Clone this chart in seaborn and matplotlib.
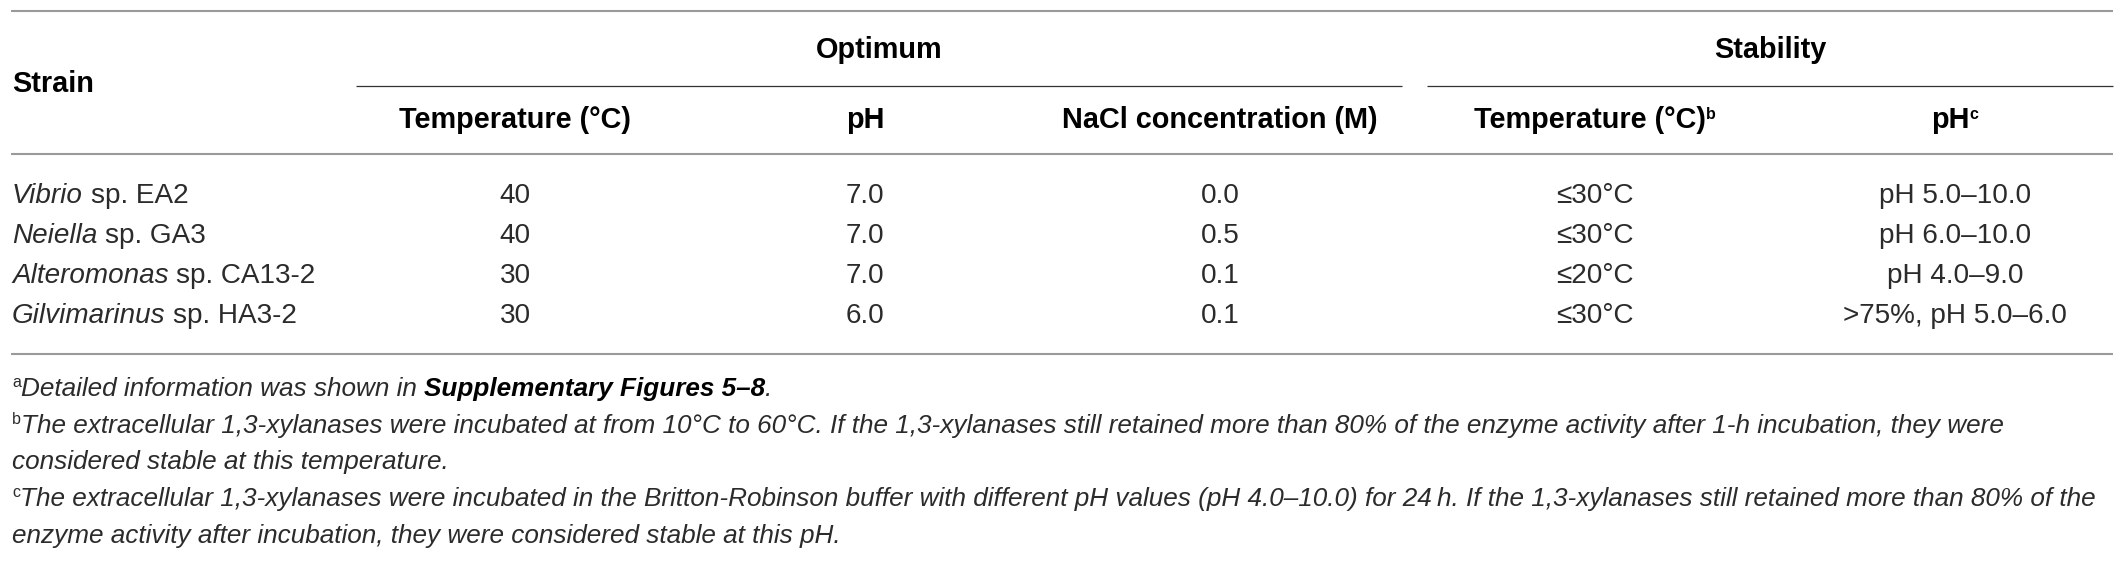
import matplotlib
matplotlib.use("Agg")
import matplotlib.pyplot as plt
import seaborn as sns
from matplotlib.font_manager import FontProperties

# table content
strain_genus = ["Vibrio", "Neiella", "Alteromonas", "Gilvimarinus"]
strain_code = ["sp. EA2", "sp. GA3", "sp. CA13-2", "sp. HA3-2"]
opt_temp = ["40", "40", "30", "30"]
opt_ph = ["7.0", "7.0", "7.0", "6.0"]
opt_nacl = ["0.0", "0.5", "0.1", "0.1"]
stab_temp = ["≤30°C", "≤30°C", "≤20°C", "≤30°C"]
stab_ph = ["pH 5.0–10.0", "pH 6.0–10.0", "pH 4.0–9.0", ">75%, pH 5.0–6.0"]

group_labels = ["Optimum", "Stability"]
col_labels = ["Temperature (°C)", "pH", "NaCl concentration (M)", "Temperature (°C)", "pH"]
col_marks = ["", "", "", "b", "c"]

footnotes = [
    [("a", "sup"), ("Detailed information was shown in ", "it"),
     ("Supplementary Figures 5–8", "bi"), (".", "it")],
    [("b", "sup"), ("The extracellular 1,3-xylanases were incubated at from 10°C to 60°C. "
                    "If the 1,3-xylanases still retained more than 80% of the enzyme activity "
                    "after 1-h incubation, they were", "it")],
    [("considered stable at this temperature.", "it")],
    [("c", "sup"), ("The extracellular 1,3-xylanases were incubated in the Britton-Robinson "
                    "buffer with different pH values (pH 4.0–10.0) for 24\u2009h. If the "
                    "1,3-xylanases still retained more than 80% of the", "it")],
    [("enzyme activity after incubation, they were considered stable at this pH.", "it")],
]

sns.set_theme(style="white")
fam = ["Liberation Sans", "DejaVu Sans"]
plt.rcParams["font.family"] = fam

W, H = 2123, 562
fig = plt.figure(figsize=(W / 100, H / 100), dpi=100)
ax = fig.add_axes([0, 0, 1, 1])
ax.set_xlim(0, W)
ax.set_ylim(H, 0)
ax.axis("off")
renderer = fig.canvas.get_renderer()


def raw_width(text, prop):
    t = ax.text(0, 0, text, fontproperties=prop)
    w = t.get_window_extent(renderer).width
    t.remove()
    return w


def space_width(prop):
    return raw_width("x x", prop) - raw_width("xx", prop)


def run_width(text, prop):
    core = text.strip(" ")
    n_sp = len(text) - len(core)
    return (raw_width(core, prop) if core else 0) + space_width(prop) * n_sp


def make_props(body, bold, foot, sup):
    return {
        "rm": FontProperties(family=fam, size=body),
        "it": FontProperties(family=fam, size=foot, style="italic"),
        "bit": FontProperties(family=fam, size=body, style="italic"),
        "bf": FontProperties(family=fam, size=bold, weight="bold"),
        "bi": FontProperties(family=fam, size=foot, weight="bold", style="italic"),
        "sup": FontProperties(family=fam, size=sup),
        "bsup": FontProperties(family=fam, size=sup, weight="bold"),
    }


# size calibration so that text widths match the printed table
p10 = make_props(10, 10, 10, 6)
body_fs = 10 * 176 / (run_width("Vibrio", p10["bit"]) + run_width(" sp. EA2", p10["rm"]))
bold_fs = 10 * 233 / run_width(col_labels[0], p10["bf"])
foot_fs = 10 * 1989 / run_width(footnotes[1][1][0], p10["it"])
props = make_props(body_fs, bold_fs, foot_fs, 11.5)

text_col = "#2b2b2b"
colors = {"rm": text_col, "it": text_col, "bit": text_col, "bf": "black",
          "bi": "black", "sup": text_col, "bsup": "black"}


def draw_runs(x, base, runs, ha="left"):
    widths = [run_width(t, props[s]) for t, s in runs]
    if ha == "center":
        x = x - sum(widths) / 2
    for (t, s), w in zip(runs, widths):
        lead = len(t) - len(t.lstrip(" "))
        y = base - 9 if s in ("sup", "bsup") else base
        if t.strip(" "):
            ax.text(x + lead * space_width(props[s]), y, t.strip(" "),
                    fontproperties=props[s], color=colors[s],
                    va="baseline", ha="left")
        x += w


# rules
rule_grey = "#9a9a9a"
ax.hlines([11, 154, 354], 11, 2113, color=rule_grey, lw=1.5)
ax.hlines(86, 356, 1402, color="#333333", lw=0.9)
ax.hlines(86, 1427, 2113, color="#333333", lw=0.9)

col_x = [515, 865, 1220, 1595, 1955]
group_x = [879, 1770]

# header
draw_runs(12, 92, [("Strain", "bf")])
for gx, g in zip(group_x, group_labels):
    draw_runs(gx, 58, [(g, "bf")], ha="center")
for cx, lab, mk in zip(col_x, col_labels, col_marks):
    runs = [(lab, "bf")]
    if mk:
        runs.append((mk, "bsup"))
    draw_runs(cx, 128, runs, ha="center")

# body rows
row_base = [203, 243, 283, 323]
for i, rb in enumerate(row_base):
    draw_runs(12, rb, [(strain_genus[i], "bit"), (" " + strain_code[i], "rm")])
    for cx, vals in zip(col_x, [opt_temp, opt_ph, opt_nacl, stab_temp, stab_ph]):
        draw_runs(cx, rb, [(vals[i], "rm")], ha="center")

# footnotes
foot_base = [396, 433, 469, 506, 543]
for fb, runs in zip(foot_base, footnotes):
    draw_runs(12, fb, runs)

fig.savefig("out.png", dpi=100, facecolor="white")
